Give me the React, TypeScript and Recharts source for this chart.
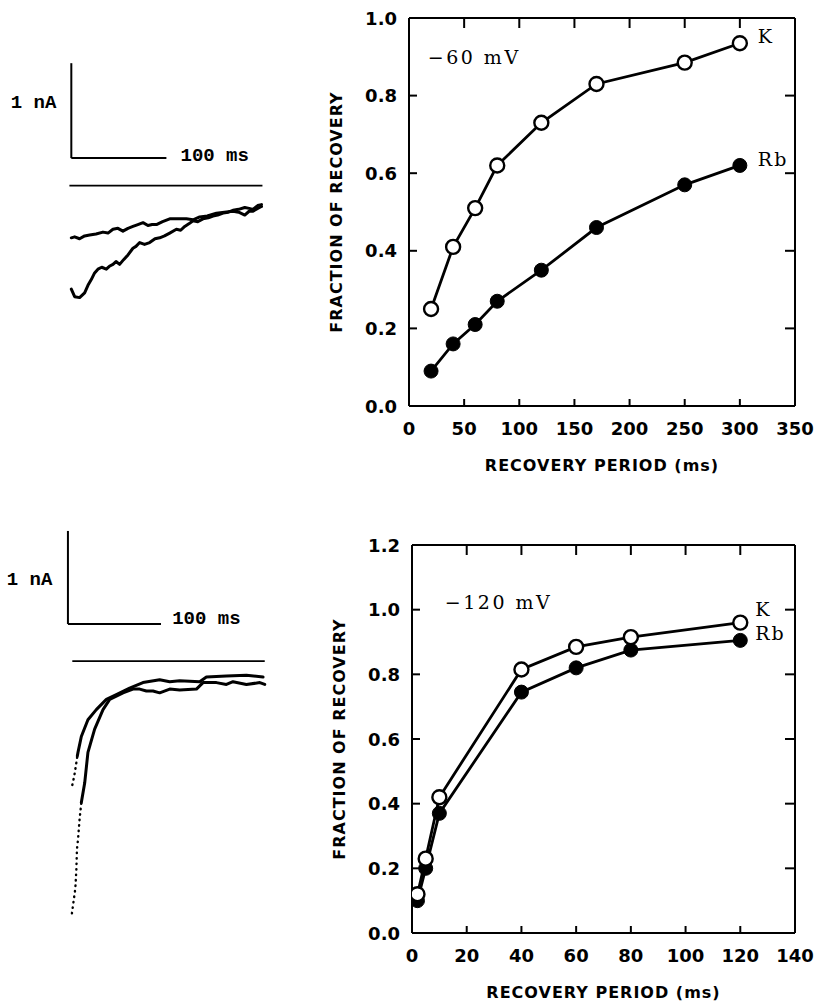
import React from 'react';
import { LineChart, Line, XAxis, YAxis, ReferenceLine, ReferenceDot, Label } from 'recharts';

// recovery at -60 mV
const period60 = [20, 40, 60, 80, 120, 170, 250, 300];
const k60 = [0.25, 0.41, 0.51, 0.62, 0.73, 0.83, 0.885, 0.935];
const rb60 = [0.09, 0.16, 0.21, 0.27, 0.35, 0.46, 0.57, 0.62];
const xTicks60 = [0, 50, 100, 150, 200, 250, 300, 350];
const yTicks60 = [0, 0.2, 0.4, 0.6, 0.8, 1.0];

// recovery at -120 mV
const period120 = [2, 5, 10, 40, 60, 80, 120];
const k120 = [0.12, 0.23, 0.42, 0.815, 0.885, 0.915, 0.96];
const rb120 = [0.1, 0.2, 0.37, 0.745, 0.82, 0.875, 0.905];
const xTicks120 = [0, 20, 40, 60, 80, 100, 120, 140];
const yTicks120 = [0, 0.2, 0.4, 0.6, 0.8, 1.0, 1.2];

// current traces, time in ms, current in nA from the zero line
const upper60T = [0, 3.5, 8.7, 14, 19.3, 26, 33.3, 38.6, 43.8, 49, 54.3, 59.6, 64.8, 70, 75.4, 80.6, 85, 89.5, 96, 103.5, 112, 121, 128, 135, 143, 152.6, 161, 170, 176, 182.4, 187, 191, 196, 200];
const upper60I = [-0.55, -0.54, -0.56, -0.53, -0.52, -0.51, -0.49, -0.5, -0.46, -0.45, -0.48, -0.45, -0.43, -0.41, -0.39, -0.42, -0.41, -0.41, -0.38, -0.35, -0.35, -0.35, -0.36, -0.33, -0.32, -0.29, -0.28, -0.27, -0.28, -0.31, -0.27, -0.27, -0.24, -0.22];
const lower60T = [0, 3.5, 8.7, 14, 17.5, 21, 24.5, 28, 32, 36.8, 40, 43.8, 47, 50.8, 55, 59.6, 64.8, 68, 71.9, 77, 82.4, 88, 93, 98, 103.5, 110.5, 115, 119.3, 124, 128, 133, 138.5, 144, 149, 154, 159.6, 165, 170, 176, 182.4, 187, 191, 196, 200];
const lower60I = [-1.09, -1.17, -1.18, -1.13, -1.05, -0.99, -0.92, -0.88, -0.86, -0.88, -0.85, -0.83, -0.8, -0.83, -0.78, -0.73, -0.66, -0.64, -0.6, -0.62, -0.6, -0.56, -0.55, -0.53, -0.5, -0.46, -0.47, -0.43, -0.4, -0.37, -0.38, -0.35, -0.34, -0.32, -0.31, -0.29, -0.28, -0.26, -0.25, -0.23, -0.24, -0.25, -0.21, -0.2];

const fastA120T = [4.3, 8.0, 9.1, 9.7, 10.8, 12.6, 14.4];
const fastA120I = [-2.71, -2.44, -2.23, -2.02, -1.92, -1.69, -1.52];
const slowA120T = [14.4, 18.0, 21.5, 28.7, 37.7, 44.9, 59.2, 69.9, 77.1, 84.3, 91.4, 98.6, 109.4, 120.1, 138.1, 145.2, 159.6, 170.3, 177.4, 191.8, 206.2, 211.5];
const slowA120I = [-1.52, -1.31, -0.98, -0.73, -0.52, -0.41, -0.34, -0.3, -0.3, -0.32, -0.32, -0.34, -0.3, -0.31, -0.3, -0.23, -0.23, -0.25, -0.22, -0.25, -0.23, -0.25];
const fastB120T = [4.7, 6.7, 8.6, 10.1];
const fastB120I = [-1.33, -1.24, -1.12, -1.02];
const slowB120T = [10.1, 10.8, 14.4, 21.5, 30.5, 41.3, 52, 66.3, 80.6, 98.6, 109.4, 120.1, 141.6, 148.8, 170.3, 191.8, 209.7];
const slowB120I = [-1.02, -0.98, -0.81, -0.63, -0.52, -0.41, -0.36, -0.29, -0.23, -0.2, -0.22, -0.21, -0.22, -0.17, -0.16, -0.15, -0.17];

const zip = (t: number[], v: number[]) => t.map((x, i) => ({ t: x, i: v[i] }));

const black = '#000';
const tickFont = { fill: black, fontSize: 18, fontWeight: 'bold', fontFamily: 'DejaVu Sans' };
const titleFont = { fill: black, fontSize: 16, fontWeight: 'bold', fontFamily: 'DejaVu Sans', letterSpacing: 1 };
const serif = { fill: black, fontSize: 19, fontFamily: 'DejaVu Serif', letterSpacing: 2 };
const mono = { fill: black, fontSize: 19, fontWeight: 'bold', fontFamily: 'Liberation Mono' };
const axisLine = { stroke: black, strokeWidth: 2 };
const MARGIN = 20;
const TICK_PX = 10;

const bottomTick = (p: any) => (
  <text x={p.x} y={p.y - MARGIN + 28.5} textAnchor="middle" style={tickFont}>{p.payload.value}</text>
);
const leftTick = (p: any) => (
  <text x={p.x + MARGIN - 12} y={p.y} textAnchor="end" dominantBaseline="central" style={tickFont}>
    {Number(p.payload.value).toFixed(1)}
  </text>
);

const textAt = (txt: string, dx: number, dy: number, style: any, anchor = 'start') => (p: any) => (
  <text x={p.cx + dx} y={p.cy + dy} textAnchor={anchor} dominantBaseline="central" style={style}>{txt}</text>
);

const yTitle = (p: any) => {
  const vb = p.viewBox || { x: 0, y: 0, width: 0, height: 0 };
  const cx = vb.x + vb.width - 73;
  const cy = vb.y + vb.height / 2;
  return (
    <text x={cx} y={cy} transform={`rotate(-90 ${cx} ${cy})`} textAnchor="middle" dominantBaseline="central" style={titleFont}>
      FRACTION OF RECOVERY
    </text>
  );
};

type RecProps = {
  left: number; top: number; width: number; height: number;
  leftW: number; bottomH: number;
  x: number[]; k: number[]; rb: number[]; xTicks: number[]; yTicks: number[];
  volt: string; voltX: number; voltY: number;
  kDy: number; rbDy: number; nameDx: number;
};

function RecoveryPlot(p: RecProps) {
  const rows = p.x.map((v, i) => ({ period: v, k: p.k[i], rb: p.rb[i] }));
  const last = p.x.length - 1;
  const xMax = p.xTicks[p.xTicks.length - 1];
  const yMax = p.yTicks[p.yTicks.length - 1];
  // tick length in data units, so the inward marks go through the axis scales
  const dx = (xMax * TICK_PX) / (p.width - p.leftW - 28);
  const dy = (yMax * TICK_PX) / (p.height - 18 - p.bottomH);
  const ids = { xAxisId: 'b', yAxisId: 'l' };
  const mark = { stroke: black, strokeWidth: 2, ifOverflow: 'visible' as const };
  return (
    <div style={{ position: 'absolute', left: p.left, top: p.top }}>
      <LineChart width={p.width} height={p.height} data={rows} margin={{ top: 0, right: 0, bottom: 0, left: 0 }}>
        <XAxis xAxisId="b" type="number" dataKey="period" domain={[0, xMax]} ticks={p.xTicks} interval={0}
          height={p.bottomH} tickSize={0} tickMargin={MARGIN} axisLine={axisLine} tickLine={false} tick={bottomTick} allowDataOverflow>
          <Label position="insideTop" offset={54} value="RECOVERY PERIOD (ms)" {...titleFont} />
        </XAxis>
        <XAxis xAxisId="t" orientation="top" type="number" domain={[0, xMax]} ticks={[]}
          height={18} tick={false} axisLine={axisLine} tickLine={false} allowDataOverflow />
        <YAxis yAxisId="l" type="number" domain={[0, yMax]} ticks={p.yTicks} interval={0} width={p.leftW}
          tickSize={0} tickMargin={MARGIN} axisLine={axisLine} tickLine={false} tick={leftTick} allowDataOverflow>
          <Label content={yTitle} />
        </YAxis>
        <YAxis yAxisId="r" orientation="right" type="number" domain={[0, yMax]} ticks={[]}
          width={28} tick={false} axisLine={axisLine} tickLine={false} allowDataOverflow />
        {p.xTicks.slice(1, -1).map((v) => (
          <ReferenceLine key={`b${v}`} {...ids} {...mark} segment={[{ x: v, y: 0 }, { x: v, y: dy * 0.7 }]} />
        ))}
        {p.xTicks.slice(1, -1).map((v) => (
          <ReferenceLine key={`t${v}`} {...ids} {...mark} segment={[{ x: v, y: yMax }, { x: v, y: yMax - dy }]} />
        ))}
        {p.yTicks.slice(1, -1).map((v) => (
          <ReferenceLine key={`l${v}`} {...ids} {...mark} segment={[{ x: 0, y: v }, { x: dx * 0.8, y: v }]} />
        ))}
        {p.yTicks.slice(1, -1).map((v) => (
          <ReferenceLine key={`r${v}`} {...ids} {...mark} segment={[{ x: xMax, y: v }, { x: xMax - dx, y: v }]} />
        ))}
        <Line xAxisId="b" yAxisId="l" dataKey="rb" type="linear" stroke={black} strokeWidth={2.8}
          dot={{ r: 7, fill: black, stroke: black, strokeWidth: 1 }} isAnimationActive={false} />
        <Line xAxisId="b" yAxisId="l" dataKey="k" type="linear" stroke={black} strokeWidth={2.8}
          dot={{ r: 7, fill: '#fff', stroke: black, strokeWidth: 2.4 }} isAnimationActive={false} />
        <ReferenceDot {...ids} x={p.voltX} y={p.voltY} r={0} ifOverflow="visible"
          shape={textAt(p.volt, 0, 0, { ...serif, letterSpacing: 2.5 })} />
        <ReferenceDot {...ids} x={p.x[last]} y={p.k[last]} r={0} ifOverflow="visible"
          shape={textAt('K', p.nameDx, p.kDy, serif)} />
        <ReferenceDot {...ids} x={p.x[last]} y={p.rb[last]} r={0} ifOverflow="visible"
          shape={textAt('Rb', p.nameDx, p.rbDy, serif)} />
      </LineChart>
    </div>
  );
}

type Trace = { data: { t: number; i: number }[]; dotted?: boolean };
type TraceProps = {
  left: number; top: number; width: number; height: number;
  xDomain: [number, number]; yDomain: [number, number];
  traces: Trace[]; barI: number; zero: [number, number];
  nA: [number, number]; ms: [number, number];
};

function TracePanel(p: TraceProps) {
  return (
    <div style={{ position: 'absolute', left: p.left, top: p.top }}>
      <LineChart width={p.width} height={p.height} margin={{ top: 0, right: 0, bottom: 0, left: 0 }}>
        <XAxis type="number" dataKey="t" domain={p.xDomain} hide allowDataOverflow />
        <YAxis type="number" domain={p.yDomain} hide allowDataOverflow />
        <ReferenceLine segment={[{ x: 0, y: p.barI }, { x: 0, y: p.barI + 1 }]} stroke={black} strokeWidth={2} ifOverflow="visible" />
        <ReferenceLine segment={[{ x: 0, y: p.barI }, { x: 100, y: p.barI }]} stroke={black} strokeWidth={2} ifOverflow="visible" />
        <ReferenceLine segment={[{ x: p.zero[0], y: 0 }, { x: p.zero[1], y: 0 }]} stroke={black} strokeWidth={1.8} ifOverflow="visible" />
        {p.traces.map((tr, n) => (
          <Line key={n} data={tr.data} dataKey="i" type="linear" stroke={black} strokeWidth={tr.dotted ? 2.4 : 3}
            strokeDasharray={tr.dotted ? '0.5 5' : undefined} strokeLinecap="round" strokeLinejoin="round"
            dot={false} isAnimationActive={false} />
        ))}
        <ReferenceDot x={p.nA[0]} y={p.nA[1]} r={0} ifOverflow="visible" shape={textAt('1 nA', 0, 0, mono, 'middle')} />
        <ReferenceDot x={p.ms[0]} y={p.ms[1]} r={0} ifOverflow="visible" shape={textAt('100 ms', 0, 0, mono, 'middle')} />
      </LineChart>
    </div>
  );
}

export default function App() {
  return (
    <div style={{ position: 'absolute', left: 0, top: 0, width: 823, height: 1002, background: '#fff' }}>
      <TracePanel left={0} top={48} width={271} height={261} xDomain={[-75, 210]} yDomain={[-1.3, 1.45]}
        traces={[{ data: zip(upper60T, upper60I) }, { data: zip(lower60T, lower60I) }]}
        barI={0.29} zero={[-2, 201]} nA={[-39.7, 0.87]} ms={[150.8, 0.31]} />
      <RecoveryPlot left={320} top={0} width={503} height={490} leftW={89} bottomH={84}
        x={period60} k={k60} rb={rb60} xTicks={xTicks60} yTicks={yTicks60}
        volt="−60 mV" voltX={17} voltY={0.9} nameDx={18} kDy={-7} rbDy={-6} />
      <TracePanel left={0} top={517} width={268} height={414} xDomain={[-73, 215]} yDomain={[-2.9, 1.55]}
        traces={[
          { data: zip(fastA120T, fastA120I), dotted: true },
          { data: zip(slowA120T, slowA120I) },
          { data: zip(fastB120T, fastB120I), dotted: true },
          { data: zip(slowB120T, slowB120I) },
        ]}
        barI={0.4} zero={[4.7, 211.5]} nA={[-41.2, 0.87]} ms={[148.8, 0.45]} />
      <RecoveryPlot left={320} top={527} width={503} height={475} leftW={92} bottomH={69}
        x={period120} k={k120} rb={rb120} xTicks={xTicks120} yTicks={yTicks120}
        volt="−120 mV" voltX={12} voltY={1.024} nameDx={15} kDy={-14} rbDy={-7} />
    </div>
  );
}
